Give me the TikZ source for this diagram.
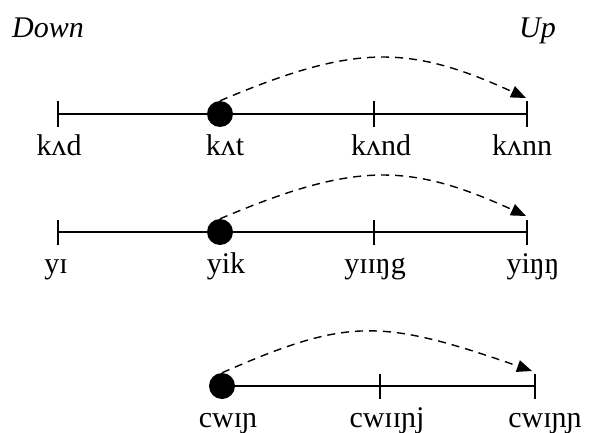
\documentclass[tikz,border=0pt]{standalone}
\usepackage{fontspec}
\setmainfont{Liberation Serif}
\usetikzlibrary{arrows.meta}

\tikzset{
  word/.style={font=\fontsize{30}{36}\selectfont, inner sep=0pt, anchor=base},
  head/.style={font=\fontsize{30}{36}\selectfont\itshape, inner sep=0pt, anchor=base west},
  bar/.style={line width=1.6pt},
  dot/.style={circle, fill=black, inner sep=0pt, minimum size=26pt},
  jump/.style={line width=1.4pt, dash pattern=on 8pt off 6pt, -{Triangle[length=15pt,width=12pt]}}
}

\begin{document}
\begin{tikzpicture}[x=1pt,y=-1pt]
                \useasboundingbox (0,0) rectangle (591,433);

                % Heads
                \node[head] (down) at (12,38) {Down};
                \node[head] (up) at (519,38) {Up};

                % Row 1
                \coordinate (a1) at (58,114);
                \coordinate (a3) at (374,114);
                \coordinate (a4) at (527,114);
                \coordinate (a5) at (526,98);
                \draw[bar] (a1) -- (a4);
                \foreach \p in {a1,a3,a4} \draw[bar] ([yshift=12.5pt]\p) -- ([yshift=-12.5pt]\p);
                \node[dot] (a2) at (220,114) {};
                \node[word] (ka) at (59,155) {kʌd};
                \node[word] (kb) at (225,155) {kʌt};
                \node[word] (kc) at (381,155) {kʌnd};
                \node[word] (kd) at (522,155) {kʌnn};
                \draw[jump] (a2.north) .. controls (354,44) and (408,44) .. (a5);

                % Row 2
                \coordinate (b1) at (58,232);
                \coordinate (b3) at (374,232);
                \coordinate (b4) at (527,232);
                \coordinate (b5) at (526,216);
                \draw[bar] (b1) -- (b4);
                \foreach \p in {b1,b3,b4} \draw[bar] ([yshift=12.5pt]\p) -- ([yshift=-12.5pt]\p);
                \node[dot] (b2) at (220,232) {};
                \node[word] (ya) at (56,273) {yɪ};
                \node[word] (yb) at (226,273) {yik};
                \node[word] (yc) at (375,273) {yɪɪŋg};
                \node[word] (yd) at (533,273) {yiŋŋ};
                \draw[jump] (b2.north) .. controls (354,162) and (408,162) .. (b5);

                % Row 3
                \coordinate (c2) at (380,386);
                \coordinate (c3) at (535,386);
                \coordinate (c4) at (532,371);
                \node[dot] (c1) at (222,386) {};
                \draw[bar] (c1) -- (c3);
                \foreach \p in {c2,c3} \draw[bar] ([yshift=12.5pt]\p) -- ([yshift=-12.5pt]\p);
                \node[word] (ca) at (228,427) {cwɪɲ};
                \node[word] (cb) at (387,427) {cwɪɪɲj};
                \node[word] (cc) at (545,427) {cwɪɲɲ};
                \draw[jump] (c1.north) .. controls (347,318) and (380,318) .. (c4);
            \end{tikzpicture}
\end{document}
